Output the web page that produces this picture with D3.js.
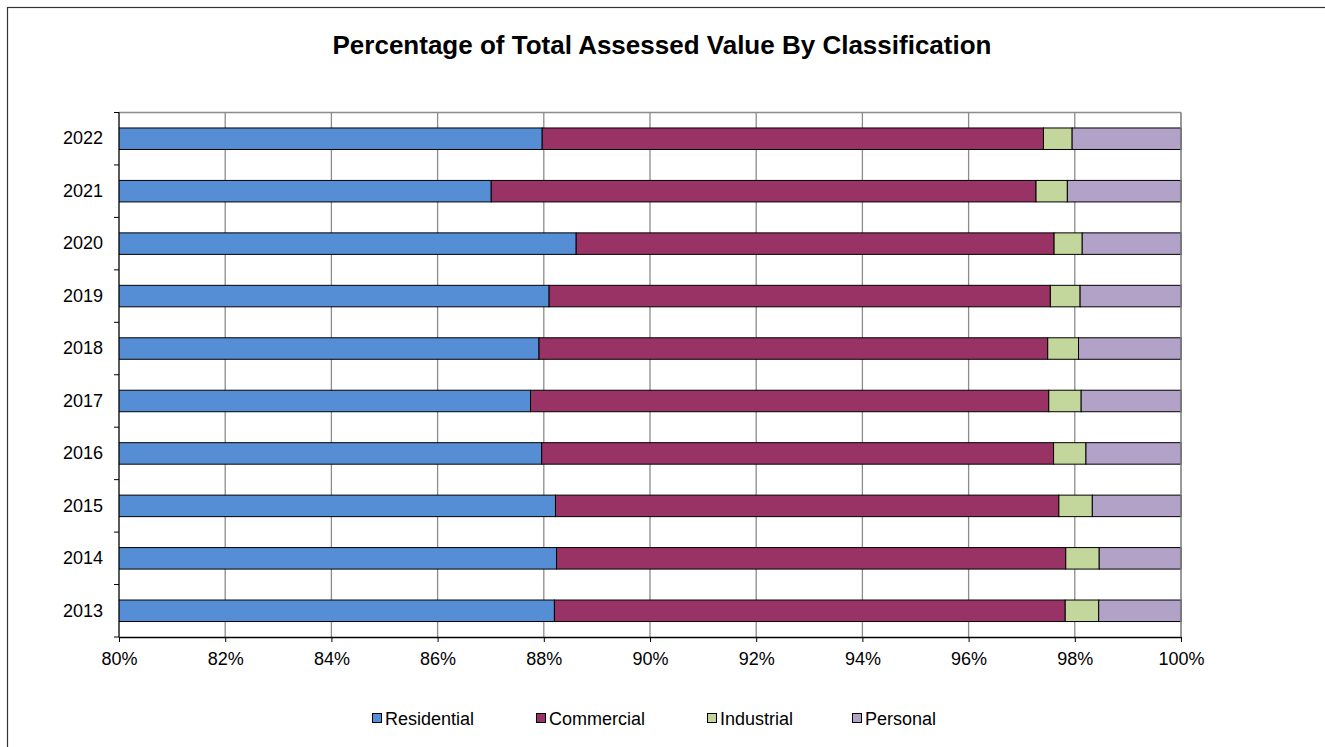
<!DOCTYPE html>
<html><head><meta charset="utf-8">
<script src="https://cdn.jsdelivr.net/npm/d3@7"></script>
<style>body{margin:0;background:#fff;} svg{display:block;font-family:"Liberation Sans",Arial,sans-serif;}</style>
</head><body>
<script>
const years = ["2013","2014","2015","2016","2017","2018","2019","2020","2021","2022"];
const residential = [88.20, 88.24, 88.22, 87.96, 87.75, 87.91, 88.10, 88.61, 87.01, 87.97];
const commercial  = [9.62, 9.59, 9.48, 9.64, 9.76, 9.58, 9.44, 9.00, 10.26, 9.44];
const industrial  = [0.63, 0.63, 0.63, 0.61, 0.61, 0.58, 0.56, 0.53, 0.59, 0.54];
const personal    = [1.55, 1.54, 1.67, 1.79, 1.88, 1.93, 1.90, 1.86, 2.14, 2.05];
const seriesNames = ["Residential","Commercial","Industrial","Personal"];
const seriesColors = ["#558ed5","#993366","#c3d69b","#b3a2c7"];
const xTicks = [80,82,84,86,88,90,92,94,96,98,100];
const title = "Percentage of Total Assessed Value By Classification";

const W = 1325, H = 747;
const svg = d3.select("body").append("svg").attr("width", W).attr("height", H);
svg.append("rect").attr("x",7.5).attr("y",7.5).attr("width",W).attr("height",H)
  .attr("fill","#fff").attr("stroke","#333").attr("stroke-width",1.2);

const m = {left:119, right:1181, top:112.5, bottom:637};
const x = d3.scaleLinear().domain([80,100]).range([m.left, m.right]);
const y = d3.scaleBand().domain(years.slice().reverse()).range([m.top, m.bottom]).padding(0);
const barFrac = 0.41;

const rows = years.map((yr,i)=>({year:yr, Residential:residential[i], Commercial:commercial[i], Industrial:industrial[i], Personal:personal[i]}));
const stack = d3.stack().keys(seriesNames)(rows);

// gridlines
svg.append("g").selectAll("line").data(xTicks.filter(t=>t>80)).join("line")
  .attr("x1",d=>x(d)).attr("x2",d=>x(d)).attr("y1",m.top).attr("y2",m.bottom)
  .attr("stroke","#8c8c8c").attr("stroke-width",1.3);
svg.append("line").attr("x1",m.left).attr("x2",m.right).attr("y1",m.top).attr("y2",m.top)
  .attr("stroke","#8c8c8c").attr("stroke-width",1.3);

// bars
svg.append("clipPath").attr("id","plotclip").append("rect")
  .attr("x",m.left).attr("y",m.top-5).attr("width",m.right-m.left+5).attr("height",m.bottom-m.top+10);
const gBars = svg.append("g").attr("clip-path","url(#plotclip)");
stack.forEach((s,si)=>{
  gBars.append("g").selectAll("rect").data(s).join("rect")
    .attr("x",d=>x(Math.max(d[0],79.9)))
    .attr("width",d=>x(d[1])-x(Math.max(d[0],79.9)))
    .attr("y",d=>y(d.data.year)+y.bandwidth()*(1-barFrac)/2)
    .attr("height",y.bandwidth()*barFrac)
    .attr("fill",seriesColors[si]).attr("stroke","#000").attr("stroke-width",1);
});

// x axis
const xAxis = svg.append("g").attr("transform",`translate(0,${m.bottom})`)
  .call(d3.axisBottom(x).tickValues(xTicks).tickFormat(d=>d+"%").tickSize(5).tickSizeOuter(0));
xAxis.select(".domain").attr("stroke","#000").attr("stroke-width",1.3);
xAxis.selectAll(".tick line").attr("stroke","#000");
xAxis.selectAll("text").attr("font-size",18).attr("fill","#000").attr("dy","1.1em")
  .attr("font-family","Liberation Sans, Arial, sans-serif");
svg.append("line").attr("x1",m.right).attr("x2",m.right).attr("y1",m.top).attr("y2",m.bottom)
  .attr("stroke","#8c8c8c").attr("stroke-width",1.3);

// y axis
const yAxis = svg.append("g").attr("transform",`translate(${m.left},0)`)
  .call(d3.axisLeft(y).tickSize(0).tickPadding(16));
yAxis.select(".domain").remove();
yAxis.selectAll("text").attr("font-size",18).attr("fill","#000")
  .attr("font-family","Liberation Sans, Arial, sans-serif");
const bounds = years.map(yr=>y(yr)).concat([y(years[0])+y.bandwidth()]);
svg.append("g").selectAll("line").data(bounds).join("line")
  .attr("x1",m.left-5).attr("x2",m.left).attr("y1",d=>d).attr("y2",d=>d)
  .attr("stroke","#000").attr("stroke-width",1);
svg.append("line").attr("x1",m.left).attr("x2",m.left).attr("y1",m.top).attr("y2",m.bottom)
  .attr("stroke","#000").attr("stroke-width",1.3);

// title
svg.append("text").attr("x",662).attr("y",54).attr("text-anchor","middle")
  .attr("font-size",26).attr("font-weight","bold").attr("fill","#000").text(title);

// legend
const legX = [372, 536, 707, 852];
const leg = svg.append("g");
seriesNames.forEach((n,i)=>{
  leg.append("rect").attr("x",legX[i]+0.5).attr("y",713.5).attr("width",9).attr("height",9)
    .attr("fill",seriesColors[i]).attr("stroke","#000").attr("stroke-width",1);
  leg.append("text").attr("x",legX[i]+13).attr("y",724.5).attr("font-size",18).attr("fill","#000").text(n);
});
</script>
</body></html>
